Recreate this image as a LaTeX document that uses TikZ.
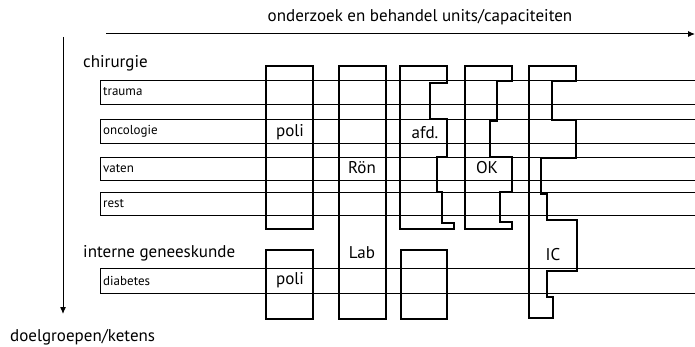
\documentclass[tikz,border=0pt]{standalone}
\usepackage{fontspec}
\setmainfont{PT Sans}
\usetikzlibrary{arrows.meta}
\begin{document}
\begin{tikzpicture}[x=1pt,y=-1pt,
  rowline/.style={line width=0.8pt},
  col/.style={line width=1.8pt, line join=miter},
  axis/.style={line width=1pt, -{Latex[length=7pt,width=6pt]}},
  big/.style={font=\fontsize{17}{19}\selectfont, inner sep=0pt},
  small/.style={font=\fontsize{13}{15}\selectfont, inner sep=0pt, anchor=west},
]
\useasboundingbox (0,0) rectangle (695,347);
% axes
\coordinate (hx0) at (106,34);
\coordinate (hx1) at (695,34);
\coordinate (vy0) at (63,37);
\coordinate (vy1) at (63,314);
\draw[axis] (hx0) -- (hx1);
\draw[axis] (vy0) -- (vy1);
\node[big] (title) at (420,17) {onderzoek en behandel units/capaciteiten};
\node[big, anchor=west] (doel) at (10,337) {doelgroepen/ketens};
\node[big, anchor=west] (chir) at (83,63) {chirurgie};
\node[big, anchor=west] (intern) at (83,253) {interne geneeskunde};
% rows
\foreach \t/\b/\nm/\lab in {80/104/tr/trauma, 119/143/on/oncologie, 157/180/va/vaten, 192/215/re/rest, 268/293/di/diabetes}{
  \draw[rowline] (695,\t) -- (100,\t) -- (100,\b) -- (695,\b);
  \node[small] (\nm) at (103,{(\t+\b)/2}) {\lab};
}
% columns
\draw[col] (266,66) rectangle (313,229);
\draw[col] (266,250) rectangle (313,319);
\draw[col] (339,66) rectangle (386,319);
\draw[col] (400,66) -- (447,66) -- (447,83) -- (430,83) -- (430,119) -- (447,119) -- (447,157) -- (437,157) -- (437,192) -- (442,192) -- (442,223) -- (454,223) -- (454,229) -- (400,229) -- cycle;
\draw[col] (401,250) rectangle (447,319);
\draw[col] (465,66) -- (512,66) -- (512,81) -- (497,81) -- (497,121) -- (490,121) -- (490,157) -- (512,157) -- (512,192) -- (500,192) -- (500,222) -- (512,222) -- (512,229) -- (465,229) -- cycle;
\draw[col] (529,66) -- (576,66) -- (576,81) -- (552,81) -- (552,120) -- (576,120) -- (576,158) -- (541,158) -- (541,194) -- (547,194) -- (547,220) -- (577,220) -- (577,271) -- (547,271) -- (547,297) -- (553,297) -- (553,318) -- (529,318) -- cycle;
% column labels
\node[big] (poli1) at (290,132) {poli};
\node[big] (poli2) at (290,280) {poli};
\node[big] (ron) at (362,168) {Rön};
\node[big] (lab) at (362,253) {Lab};
\node[big] (afd) at (425,133) {afd.};
\node[big] (ok) at (487,168) {OK};
\node[big] (ic) at (553,255) {IC};
\end{tikzpicture}
\end{document}
